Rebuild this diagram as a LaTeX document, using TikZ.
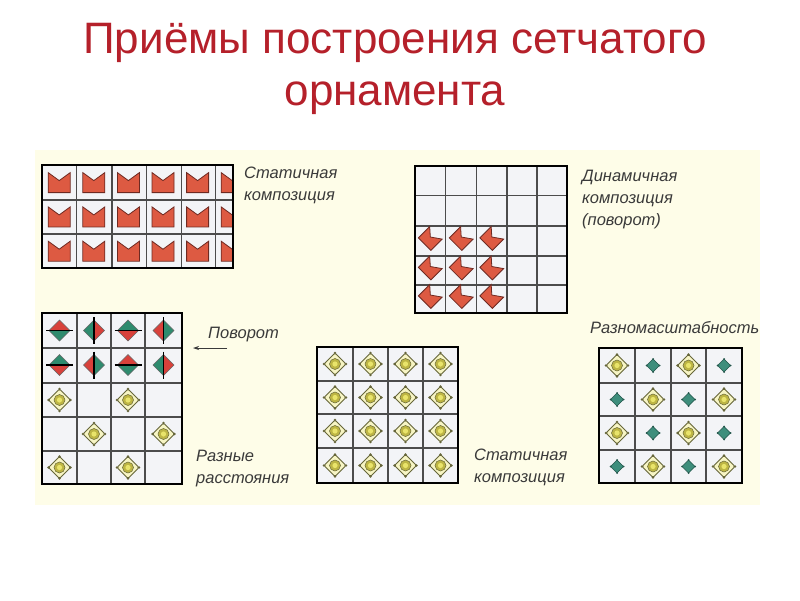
\documentclass[tikz,border=0pt]{standalone}
\usepackage{fontspec}
\setmainfont{Liberation Sans}
\usetikzlibrary{arrows.meta, positioning}
\definecolor{titleRed}{HTML}{B5202A}
\definecolor{labelGray}{HTML}{3A3A3A}
\definecolor{panelBg}{HTML}{FEFDE8}
\definecolor{cellBg}{HTML}{F3F4F7}
\definecolor{crownRed}{HTML}{DD5A42}
\definecolor{crownDark}{HTML}{6E2A22}
\definecolor{dRed}{HTML}{D8413B}
\definecolor{dGreen}{HTML}{2E8B6E}
\definecolor{rosFill}{HTML}{F7F5C4}
\definecolor{rosLine}{HTML}{66663A}
\definecolor{rosRing}{HTML}{BDB544}
\definecolor{rosDot}{HTML}{E9E46A}
\definecolor{tealFill}{HTML}{3E8E7C}
\definecolor{tealDark}{HTML}{23564B}
\tikzset{
  gridline/.style={draw=black!70, line width=1.1pt},
  gridframe/.style={draw=black, line width=2pt},
  cellbg/.style={fill=cellBg},
  label/.style={font=\fontsize{16.5}{22}\selectfont\itshape, text=labelGray,
                align=left, inner sep=0pt, anchor=base west},
  arrowK/.style={-{Stealth[length=6pt, width=4pt]}, draw=labelGray, line width=0.8pt},
  crown/.pic={
    \filldraw[fill=crownRed, draw=crownDark, line width=0.8pt]
      (-11,-10) -- (0,-2) -- (11,-10) -- (11,10) -- (-11,10) -- cycle;},
  chevron/.pic={
    \filldraw[fill=crownRed, draw=crownDark, line width=0.8pt]
      (-11.9,-0.6) -- (-0.6,-11.9) -- (0,-1.5) -- (11.9,0.6) -- (0.6,11.9) -- cycle;},
  rosette/.pic={
    \filldraw[fill=rosFill, draw=rosLine, line width=0.8pt, rounded corners=1.5pt]
      (0,-11) -- (11,0) -- (0,11) -- (-11,0) -- cycle;
    \foreach \p in {(0,-11),(11,0),(0,11),(-11,0)} \fill[rosLine] \p circle (1.3);
    \filldraw[fill=rosRing, draw=rosLine, line width=0.5pt] (0,0) circle (5.5);
    \fill[rosDot] (0,0) circle (2.6);},
  tealdot/.pic={
    \filldraw[fill=tealFill, draw=tealDark, line width=0.6pt]
      (0,-6.5) -- (6.5,0) -- (0,6.5) -- (-6.5,0) -- cycle;
    \foreach \p in {(0,-6.5),(6.5,0),(0,6.5),(-6.5,0)} \fill[tealDark] \p circle (1);},
  pics/splith/.style 2 args={code={
    \fill[#1] (-10.5,0) -- (0,-10.5) -- (10.5,0) -- cycle;
    \fill[#2] (-10.5,0) -- (0,10.5) -- (10.5,0) -- cycle;
    \draw[black!60, line width=0.5pt] (0,-10.5) -- (10.5,0) -- (0,10.5) -- (-10.5,0) -- cycle;
    \draw[black, line width=1.5pt] (-13.5,0) -- (13.5,0);}},
  pics/splitv/.style 2 args={code={
    \fill[#1] (0,-10.5) -- (-10.5,0) -- (0,10.5) -- cycle;
    \fill[#2] (0,-10.5) -- (10.5,0) -- (0,10.5) -- cycle;
    \draw[black!60, line width=0.5pt] (0,-10.5) -- (10.5,0) -- (0,10.5) -- (-10.5,0) -- cycle;
    \draw[black, line width=1.5pt] (0,-13.5) -- (0,13.5);}},
}
\begin{document}
\begin{tikzpicture}[x=1pt, y=-1pt]
  \useasboundingbox (0,0) rectangle (800,600);
  \fill[white] (0,0) rectangle (800,600);
  % title
  \node[font=\fontsize{44}{52}\selectfont, text=titleRed, align=center, anchor=base]
    (title) at (395,105) {Приёмы построения сетчатого\\орнамента};
  \fill[panelBg] (35,150) rectangle (760,505);

  % static composition, top left
  \begin{scope}
    \clip (42,165) rectangle (233,268);
    \fill[cellbg] (42,165) rectangle (233,268);
    \foreach \c in {0,...,5} \foreach \r in {0,1,2}
      \pic at ({59.2+34.6*\c},{182.6+34.3*\r}) {crown};
    \foreach \x in {76.7,112,146.7,181.7,215.7} \draw[gridline] (\x,165) -- (\x,268);
    \foreach \y in {200,234} \draw[gridline] (42,\y) -- (233,\y);
  \end{scope}
  \draw[gridframe] (42,165) rectangle (233,268);
  \node[label] (lblStat) at (244,200) {Статичная\\композиция};

  % dynamic composition, top right
  \fill[cellbg] (415,166) rectangle (567,313);
  \foreach \x in {445.7,476.7,507,537} \draw[gridline] (\x,166) -- (\x,313);
  \foreach \y in {195.7,226,256,285} \draw[gridline] (415,\y) -- (567,\y);
  \foreach \x in {430.3,461.2,491.8} \foreach \y in {238.5,268,296.5}
    \pic at (\x,\y) {chevron};
  \draw[gridframe] (415,166) rectangle (567,313);
  \node[label] (lblDyn) at (582,225) {Динамичная\\композиция\\(поворот)};

  % rotation and spacing, bottom left
  \fill[cellbg] (42,313) rectangle (182,484);
  \foreach \x in {77,111,145} \draw[gridline] (\x,313) -- (\x,484);
  \foreach \y in {348,383,417,451} \draw[gridline] (42,\y) -- (182,\y);
  \pic at (59.5,330.5) {splith={dRed}{dGreen}};
  \pic at (94,330.5) {splitv={dGreen}{dRed}};
  \pic at (128,330.5) {splith={dGreen}{dRed}};
  \pic at (163.5,330.5) {splitv={dRed}{dGreen}};
  \pic at (59.5,365) {splith={dGreen}{dRed}};
  \pic at (94,365) {splitv={dRed}{dGreen}};
  \pic at (128,365) {splith={dRed}{dGreen}};
  \pic at (163.5,365) {splitv={dGreen}{dRed}};
  \foreach \x/\y in {59.5/400, 128/400, 94/434, 163.5/434, 59.5/467.5, 128/467.5}
    \pic at (\x,\y) {rosette};
  \draw[gridframe] (42,313) rectangle (182,484);
  \node[label] (lblRot) at (208,338) {Поворот};
  \coordinate (rotStart) at (227,348);
  \coordinate (rotEnd) at (193,348);
  \draw[arrowK] (rotStart) -- (rotEnd);
  \node[label] (lblDist) at (196,483) {Разные\\расстояния};

  % static composition, bottom middle
  \fill[cellbg] (317,347) rectangle (458,483);
  \foreach \x in {353,388,423} \draw[gridline] (\x,347) -- (\x,483);
  \foreach \y in {381,414,448} \draw[gridline] (317,\y) -- (458,\y);
  \foreach \x in {335,370.5,405.5,440.5} \foreach \y in {364,397.5,431,465.5}
    \pic at (\x,\y) {rosette};
  \draw[gridframe] (317,347) rectangle (458,483);
  \node[label] (lblStat2) at (474,482) {Статичная\\композиция};

  % scale variation, bottom right
  \fill[cellbg] (599,348) rectangle (742,483);
  \foreach \x in {635,671,706} \draw[gridline] (\x,348) -- (\x,483);
  \foreach \y in {383,416,450} \draw[gridline] (599,\y) -- (742,\y);
  \foreach \x [count=\i] in {617,653,688.5,724}
    \foreach \y [count=\j] in {365.5,399.5,433,466.5} {
      \pgfmathparse{int(mod(\i+\j,2))}
      \ifnum\pgfmathresult=0 \pic at (\x,\y) {rosette}; \else \pic at (\x,\y) {tealdot}; \fi
    }
  \draw[gridframe] (599,348) rectangle (742,483);
  \node[label] (lblScale) at (590,333) {Разномасштабность};
\end{tikzpicture}
\end{document}
